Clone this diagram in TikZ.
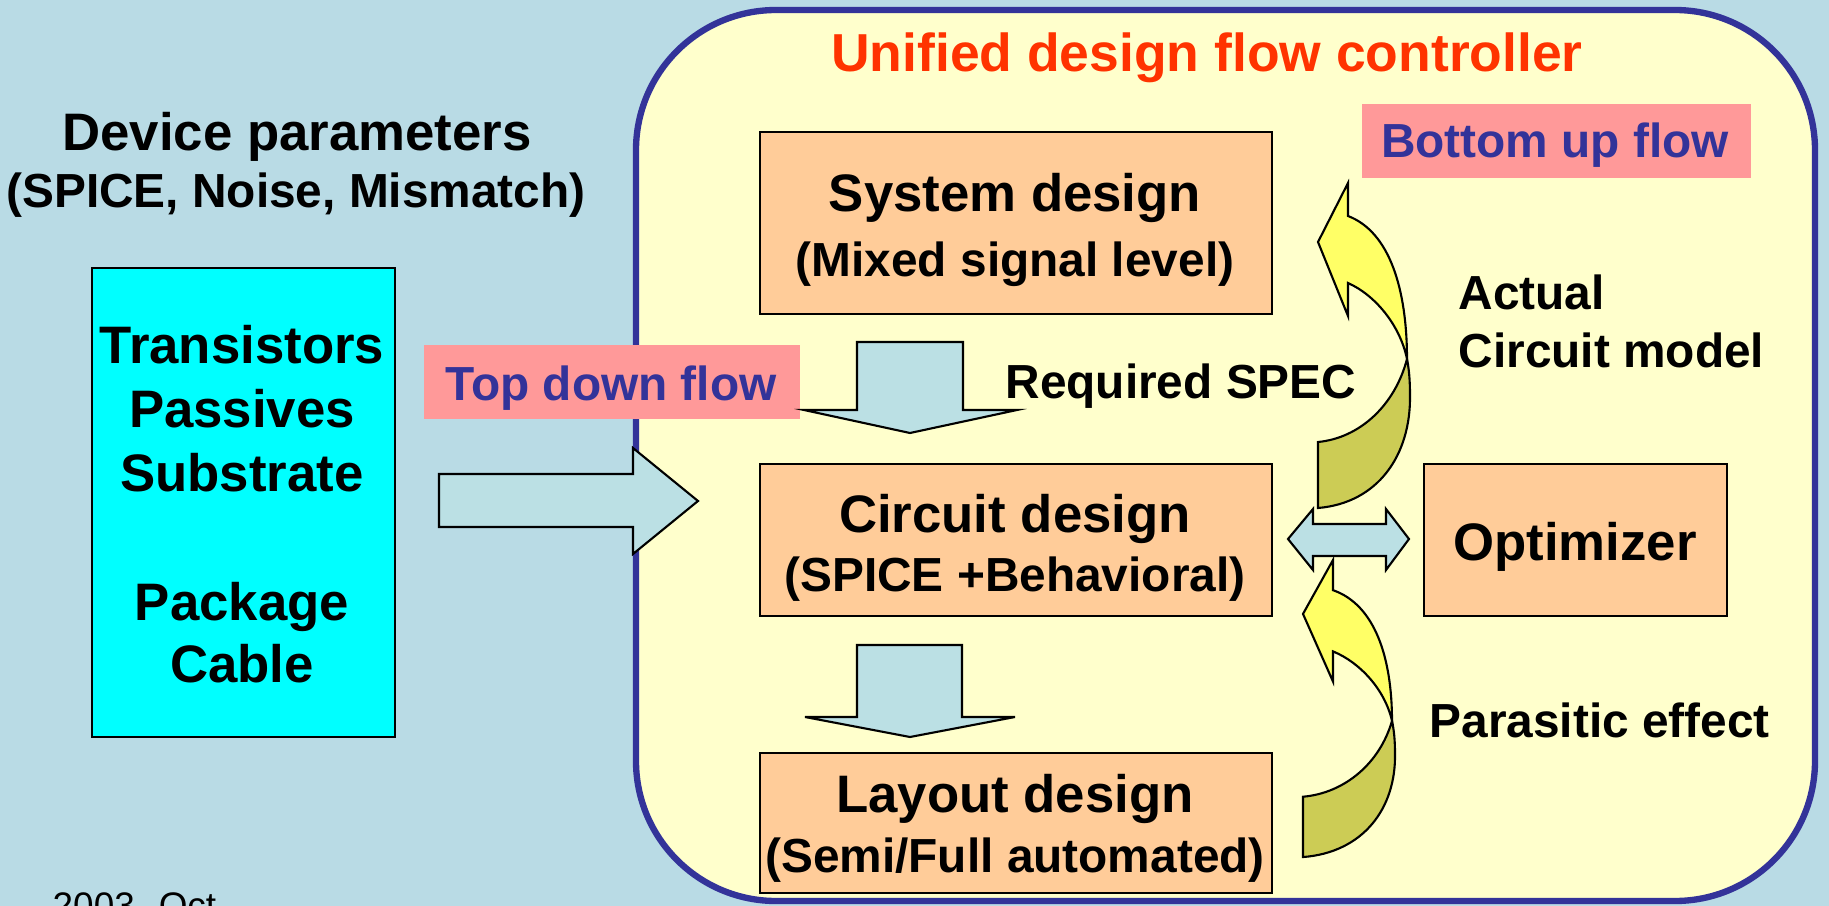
\documentclass[tikz,border=0pt]{standalone}
\usepackage{fontspec}
\setmainfont{Liberation Sans}
\definecolor{bgblue}{RGB}{185,219,229}
\definecolor{panelfill}{RGB}{255,255,204}
\definecolor{panelline}{RGB}{51,51,153}
\definecolor{peach}{RGB}{255,204,153}
\definecolor{cyanbox}{RGB}{0,255,255}
\definecolor{pinklabel}{RGB}{255,153,153}
\definecolor{arrowblue}{RGB}{187,224,228}
\definecolor{yellowface}{RGB}{255,255,102}
\definecolor{olive}{RGB}{204,204,85}
\definecolor{titlered}{RGB}{255,51,0}
\definecolor{labelblue}{RGB}{51,51,153}
\tikzset{
  bigtxt/.style={font=\fontsize{15}{18}\selectfont\bfseries, inner sep=0pt, anchor=base},
  smalltxt/.style={font=\fontsize{13.6}{16}\selectfont\bfseries, inner sep=0pt, anchor=base},
  stagebox/.style={draw=black, fill=peach, line width=0.6pt, anchor=north west, inner sep=0pt},
  flowlabel/.style={fill=pinklabel, anchor=north west, inner sep=0pt},
  blockarrow/.style={draw=black, fill=arrowblue, line width=0.6pt, line join=miter},
  curvefront/.style={draw=black, fill=yellowface, line width=0.6pt},
  curveback/.style={draw=black, fill=olive, line width=0.6pt},
}
\begin{document}
\begin{tikzpicture}[x=0.01cm,y=-0.01cm]
\useasboundingbox (0,0) rectangle (1829,906);
\clip (0,0) rectangle (1829,906);
\fill[bgblue] (0,0) rectangle (1829,906);

% panel
\draw[fill=panelfill, draw=panelline, line width=1.8pt, rounded corners=1.4cm] (636,10) rectangle (1815,901);
\node[font=\fontsize{15.2}{18}\selectfont\bfseries, text=titlered, inner sep=0pt, anchor=base] (title) at (1207,71) {Unified design flow controller};

% left texts
\node[bigtxt] (devpar) at (297,150) {Device parameters};
\node[smalltxt] (devpar2) at (296,207) {(SPICE, Noise, Mismatch)};

% cyan box
\node[draw=black, fill=cyanbox, line width=0.6pt, anchor=north west, inner sep=0pt, minimum width=3.03cm, minimum height=4.69cm] (lib) at (91,267) {};
\node[bigtxt] (t1) at (242,363) {Transistors};
\node[bigtxt] (t2) at (242,427) {Passives};
\node[bigtxt] (t3) at (242,491) {Substrate};
\node[bigtxt] (t4) at (242,620) {Package};
\node[bigtxt] (t5) at (242,682) {Cable};

% stage boxes
\node[stagebox, minimum width=5.12cm, minimum height=1.82cm] (sys) at (759,131) {};
\node[stagebox, minimum width=5.12cm, minimum height=1.52cm] (cir) at (759,463) {};
\node[stagebox, minimum width=5.12cm, minimum height=1.40cm] (lay) at (759,752) {};
\node[stagebox, minimum width=3.03cm, minimum height=1.52cm] (opt) at (1423,463) {};

\node[bigtxt] (sysA) at (1015,211) {System design};
\node[smalltxt] (sysB) at (1015,276) {(Mixed signal level)};
\node[bigtxt] (cirA) at (1015,532) {Circuit design};
\node[smalltxt] (cirB) at (1015,591) {(SPICE +Behavioral)};
\node[bigtxt] (layA) at (1015,812) {Layout design};
\node[smalltxt] (layB) at (1015,872) {(Semi/Full automated)};
\node[bigtxt] (optA) at (1575,560) {Optimizer};

% flow labels
\node[flowlabel, minimum width=3.76cm, minimum height=0.74cm] (tdbox) at (423,344) {};
\node[smalltxt, text=labelblue] (td) at (611,400) {Top down flow};
\node[flowlabel, minimum width=3.89cm, minimum height=0.74cm] (bubox) at (1361,103) {};
\node[smalltxt, text=labelblue] (bu) at (1555,157) {Bottom up flow};

% side texts
\node[smalltxt, anchor=base east] (spec) at (1357,398) {Required SPEC};
\node[smalltxt, anchor=base west] (act1) at (1458,309) {Actual};
\node[smalltxt, anchor=base west] (act2) at (1458,367) {Circuit model};
\node[smalltxt, anchor=base west] (para) at (1429,737) {Parasitic effect};

% block arrows
\draw[blockarrow] (439,474) -- (633,474) -- (633,448) -- (698,501) -- (633,554) -- (633,527) -- (439,527) -- cycle;
\draw[blockarrow] (857,342) -- (963,342) -- (963,410) -- (1017,410) -- (910,433) -- (804,410) -- (857,410) -- cycle;
\draw[blockarrow] (857,645) -- (962,645) -- (962,717) -- (1015,717) -- (910,737) -- (805,717) -- (857,717) -- cycle;
\draw[blockarrow] (1288,539) -- (1313,509) -- (1313,524) -- (1386,524) -- (1386,509) -- (1409,539) -- (1386,570) -- (1386,556) -- (1313,556) -- (1313,570) -- cycle;

% curved arrows
\foreach \sx/\sy/\sc in {1318/183/1, 1303/560/0.914}{
\begin{scope}[shift={(\sx,\sy)}, yscale=\sc]
\draw[curveback] (89,176) .. controls (77,222) and (42,255) .. (0,259) -- (0,325)
   .. controls (60,320) and (93,272) .. (92,212) .. controls (92,197) and (91,186) .. (89,176) -- cycle;
\draw[curvefront] (30,33) -- (30,0) -- (0,59) -- (30,133) -- (30,100)
   .. controls (57,112) and (82,142) .. (89,176) .. controls (89,107) and (72,49) .. (30,33) -- cycle;
\end{scope}
}

% footer
\node[font=\fontsize{10.5}{12}\selectfont, inner sep=0pt, anchor=base west] (date) at (52,918) {2003. Oct};
\end{tikzpicture}
\end{document}
